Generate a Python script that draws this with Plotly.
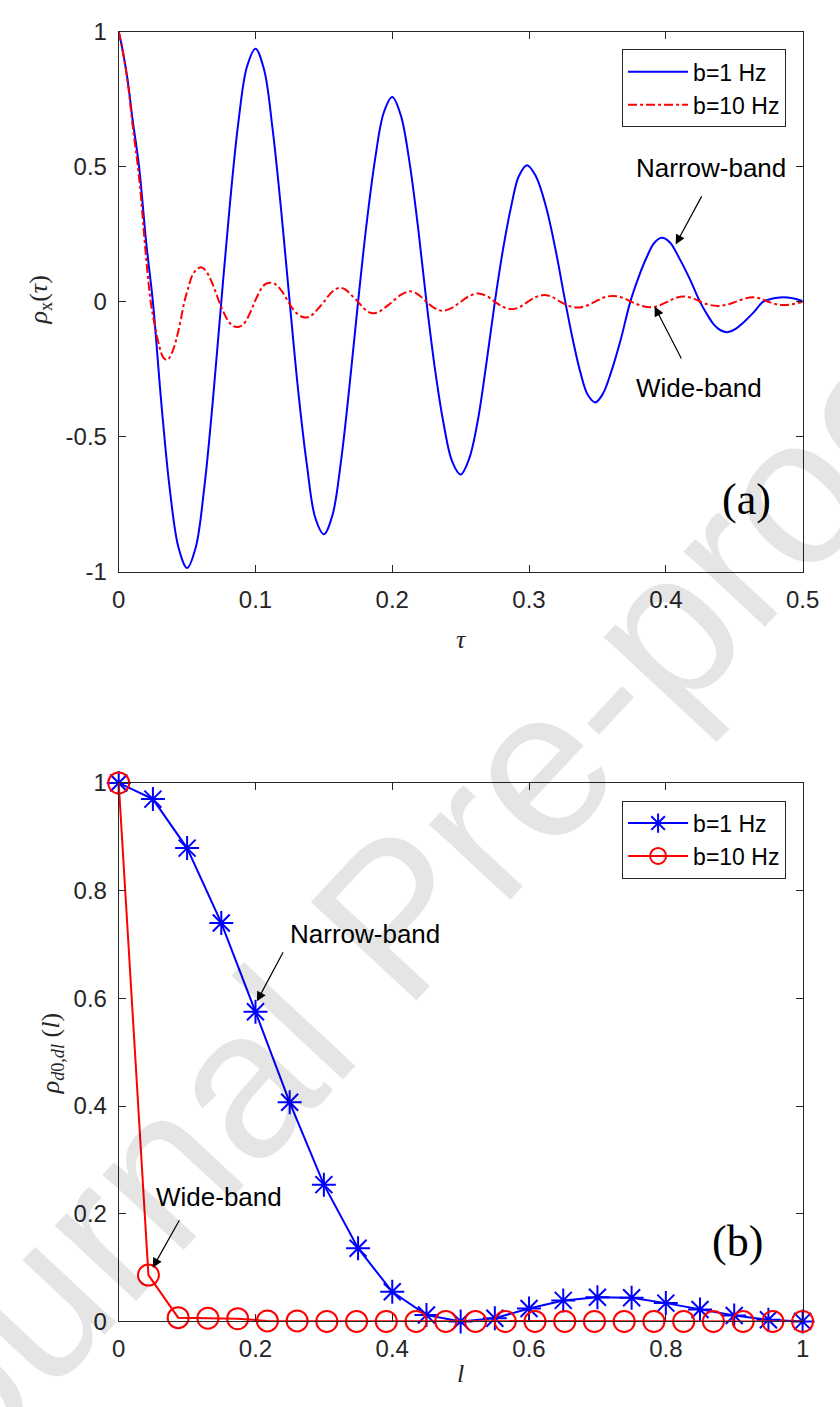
import plotly.graph_objects as go

# ---------------- data: panel (a) ----------------
tau_narrow = [0, 0.0023, 0.0064, 0.01, 0.0149, 0.0201, 0.025,
              0.03125, 0.0375, 0.04375, 0.05, 0.05625, 0.0625, 0.06875, 0.075,
              0.08125, 0.0875, 0.09375, 0.1, 0.10625, 0.1125, 0.11875, 0.125,
              0.13125, 0.1375, 0.14375, 0.15, 0.15625, 0.1625, 0.16875, 0.175,
              0.18125, 0.1875, 0.19375, 0.2, 0.20625, 0.2125, 0.21875, 0.225,
              0.23125, 0.2375, 0.24375, 0.25, 0.25625, 0.2625, 0.26875, 0.275,
              0.281, 0.287, 0.2925, 0.2985, 0.305, 0.3125, 0.3195, 0.3265,
              0.332, 0.3375, 0.343, 0.3485, 0.354, 0.36, 0.367, 0.374,
              0.38, 0.386, 0.3915, 0.397, 0.403, 0.41, 0.4175, 0.425,
              0.43, 0.435, 0.44, 0.445, 0.451, 0.457, 0.464, 0.471,
              0.475, 0.48, 0.486, 0.492, 0.5]
rho_narrow = [1.0, 0.946, 0.825, 0.68, 0.5, 0.219, 0.0,
              -0.38, -0.70, -0.91, -0.985, -0.91, -0.69, -0.37, 0.0,
              0.36, 0.665, 0.87, 0.937, 0.86, 0.64, 0.34, 0.0,
              -0.33, -0.60, -0.80, -0.86, -0.79, -0.59, -0.31, 0.0,
              0.29, 0.53, 0.70, 0.758, 0.69, 0.52, 0.28, 0.0,
              -0.25, -0.45, -0.59, -0.639, -0.58, -0.44, -0.23, 0.0,
              0.195, 0.355, 0.465, 0.506, 0.465, 0.35, 0.19, 0.0,
              -0.14, -0.26, -0.345, -0.372, -0.34, -0.26, -0.14, 0.0,
              0.09, 0.165, 0.218, 0.237, 0.22, 0.16, 0.085, 0.0,
              -0.045, -0.083, -0.105, -0.112, -0.10, -0.075, -0.04, 0.0,
              0.008, 0.014, 0.017, 0.014, 0.003]

tau_wide = [0, 0.0023, 0.0064, 0.01, 0.0149, 0.0201, 0.0234, 0.0265, 0.0295, 0.0325,
            0.0355, 0.0388, 0.042, 0.045, 0.048, 0.051, 0.054, 0.057, 0.0604, 0.0637,
            0.067, 0.0702, 0.0735, 0.0768, 0.08, 0.0838, 0.0875, 0.0908, 0.094, 0.0967,
            0.0994, 0.1022, 0.105, 0.108, 0.1113, 0.1147, 0.118, 0.121, 0.124, 0.1272,
            0.1305, 0.1339, 0.1373, 0.1404, 0.1435, 0.1467, 0.15, 0.153, 0.156, 0.159,
            0.162, 0.165, 0.168, 0.1715, 0.175, 0.178, 0.181, 0.184, 0.187, 0.19,
            0.1935, 0.1968, 0.2, 0.2065, 0.213, 0.219, 0.225, 0.231, 0.2367, 0.2433,
            0.25, 0.2564, 0.2628, 0.2689, 0.275, 0.2813, 0.2876, 0.2933, 0.299, 0.305,
            0.311, 0.317, 0.323, 0.329, 0.335, 0.3415, 0.348, 0.3545, 0.361, 0.368,
            0.375, 0.382, 0.389, 0.395, 0.401, 0.407, 0.413, 0.4193, 0.4255, 0.4318,
            0.438, 0.4445, 0.451, 0.4575, 0.464, 0.4695, 0.475, 0.4808, 0.4865, 0.4933,
            0.5]
rho_wide = [1.0, 0.946, 0.82, 0.66, 0.46, 0.16, 0.0, -0.09, -0.16, -0.205,
            -0.215, -0.19, -0.14, -0.075, 0.0, 0.055, 0.1, 0.12, 0.128, 0.115,
            0.085, 0.045, 0.0, -0.04, -0.07, -0.09, -0.093, -0.085, -0.062, -0.033,
            0.0, 0.03, 0.055, 0.068, 0.071, 0.065, 0.048, 0.026, 0.0, -0.025,
            -0.044, -0.055, -0.058, -0.052, -0.038, -0.02, 0.0, 0.02, 0.037, 0.048,
            0.052, 0.048, 0.036, 0.018, 0.0, -0.017, -0.032, -0.04, -0.042, -0.038,
            -0.026, -0.013, 0.0, 0.027, 0.039, 0.027, 0.0, -0.023, -0.033, -0.023,
            0.0, 0.022, 0.031, 0.022, 0.0, -0.019, -0.027, -0.019, 0.0, 0.018,
            0.025, 0.018, 0.0, -0.015, -0.021, -0.015, 0.0, 0.016, 0.022, 0.016,
            0.0, -0.014, -0.02, -0.014, 0.0, 0.014, 0.02, 0.014, 0.0, -0.011,
            -0.015, -0.011, 0.0, 0.012, 0.017, 0.012, 0.0, -0.009, -0.012, -0.008,
            0.0]

# ---------------- data: panel (b) ----------------
l_narrow = [0, 0.05, 0.1, 0.15, 0.2, 0.25, 0.3, 0.35, 0.4, 0.45, 0.5,
            0.55, 0.6, 0.65, 0.7, 0.75, 0.8, 0.85, 0.9, 0.95, 1.0]
corr_narrow = [1.0, 0.97, 0.879, 0.74, 0.575, 0.407, 0.254, 0.136, 0.055, 0.012, 0.0,
               0.006, 0.024, 0.039, 0.045, 0.044, 0.034, 0.022, 0.011, 0.003, 0.0]

l_wide = [k / 23 for k in range(24)]
corr_wide = [1.0, 0.086, 0.007, 0.006, 0.005, 0.001, 0.001, 0.0, 0.0, 0.0, 0.0, 0.0,
             0.0, 0.0, 0.0, 0.0, 0.0, 0.0, 0.0, 0.0, 0.0, 0.0, 0.0, 0.0]

# ---------------- tick labels ----------------
xa_ticks = [0, 0.1, 0.2, 0.3, 0.4, 0.5]
xa_labels = ["0", "0.1", "0.2", "0.3", "0.4", "0.5"]
ya_ticks = [-1, -0.5, 0, 0.5, 1]
ya_labels = ["-1", "-0.5", "0", "0.5", "1"]
xb_ticks = [0, 0.2, 0.4, 0.6, 0.8, 1]
xb_labels = ["0", "0.2", "0.4", "0.6", "0.8", "1"]
yb_ticks = [0, 0.2, 0.4, 0.6, 0.8, 1]
yb_labels = ["0", "0.2", "0.4", "0.6", "0.8", "1"]

W, H = 840, 1407
SANS = "Liberation Sans, Arial, sans-serif"
SERIF = "Liberation Serif, Times New Roman, serif"
AX = "#262626"

fig = go.Figure()
fig.add_trace(go.Scatter(x=tau_narrow, y=rho_narrow, mode="lines", name="b=1 Hz",
                         line=dict(color="#0000FF", width=2, shape="spline", smoothing=1.0),
                         xaxis="x", yaxis="y", legend="legend"))
fig.add_trace(go.Scatter(x=tau_wide, y=rho_wide, mode="lines", name="b=10 Hz",
                         line=dict(color="#FF0000", width=2, dash="dashdot", shape="spline",
                                   smoothing=1.0),
                         xaxis="x", yaxis="y", legend="legend"))
fig.add_trace(go.Scatter(x=l_narrow, y=corr_narrow, mode="lines+markers", name="b=1 Hz",
                         line=dict(color="#0000FF", width=2),
                         marker=dict(symbol="asterisk-open", size=20, color="#0000FF",
                                     line=dict(color="#0000FF", width=2)),
                         cliponaxis=False, xaxis="x2", yaxis="y2", legend="legend2"))
fig.add_trace(go.Scatter(x=l_wide, y=corr_wide, mode="lines+markers", name="b=10 Hz",
                         line=dict(color="#FF0000", width=2),
                         marker=dict(symbol="circle-open", size=21, color="#FF0000",
                                     line=dict(color="#FF0000", width=2)),
                         cliponaxis=False, xaxis="x2", yaxis="y2", legend="legend2"))


def axis(dom, rng, tv, tt, anchor):
    return dict(domain=dom, range=rng, tickvals=tv, ticktext=tt, ticks="inside", ticklen=7,
                tickwidth=1, tickcolor=AX, showline=True, linecolor=AX, linewidth=1,
                mirror="ticks", showgrid=False, zeroline=False, anchor=anchor,
                tickfont=dict(family=SANS, size=24, color=AX), ticklabelstandoff=6)


xdom = [115 / W, 819 / W]
ydom_a = [1 - 569 / H, 1 - 18 / H]
ydom_b = [1 - 1333 / H, 1 - 784 / H]

legend_common = dict(bgcolor="white", bordercolor=AX, borderwidth=1,
                     font=dict(family=SANS, size=23, color="black"),
                     xanchor="right", yanchor="top", x=802 / W, itemwidth=60,
                     tracegroupgap=0)

fig.update_layout(
    width=W, height=H, margin=dict(l=0, r=0, t=0, b=0),
    paper_bgcolor="white", plot_bgcolor="white", showlegend=True,
    xaxis=axis(xdom, [0, 0.5], xa_ticks, xa_labels, "y"),
    yaxis=axis(ydom_a, [-1, 1], ya_ticks, ya_labels, "x"),
    xaxis2=axis(xdom, [0, 1], xb_ticks, xb_labels, "y2"),
    yaxis2=axis(ydom_b, [0, 1], yb_ticks, yb_labels, "x2"),
    legend=dict(**legend_common, y=1 - 36 / H),
    legend2=dict(**legend_common, y=1 - 802 / H),
)

ann = []
TXT = dict(family=SANS, size=26, color="black")
C = dict(xanchor="center", yanchor="middle", showarrow=False)
ARW = dict(showarrow=True, arrowhead=2, arrowsize=1.6, arrowwidth=1.2, arrowcolor="black",
           text="", standoff=0, startstandoff=0)

# watermark (large, light grey, diagonal, partly beyond the page as in the source)
ann.append(dict(xref="paper", yref="paper", x=400 / W, y=1 - 920 / H, text="Journal Pre-proof",
                textangle=-47, font=dict(family=SANS, size=210, color="rgba(0,0,0,0.10)"), **C))

# panel (a) annotations
ann.append(dict(xref="x", yref="y", x=0.4332, y=0.494, text="Narrow-band", font=TXT, **C))
ann.append(dict(xref="x", yref="y", axref="x", ayref="y", x=0.4072, y=0.2123, ax=0.4268, ay=0.396, **ARW))
ann.append(dict(xref="x", yref="y", x=0.4242, y=-0.32, text="Wide-band", font=TXT, **C))
ann.append(dict(xref="x", yref="y", axref="x", ayref="y", x=0.3918, y=-0.0174, ax=0.4119, ay=-0.215, **ARW))
ann.append(dict(xref="x", yref="y", x=0.4593, y=-0.731, text="(a)",
                font=dict(family=SERIF, size=44, color="black"), **C))

# panel (b) annotations
ann.append(dict(xref="x2", yref="y2", x=0.3605, y=0.719, text="Narrow-band", font=TXT, **C))
ann.append(dict(xref="x2", yref="y2", axref="x2", ayref="y2", x=0.2021, y=0.5944, ax=0.2415, ay=0.6885, **ARW))
ann.append(dict(xref="x2", yref="y2", x=0.1463, y=0.2313, text="Wide-band", font=TXT, **C))
ann.append(dict(xref="x2", yref="y2", axref="x2", ayref="y2", x=0.0497, y=0.0996, ax=0.0899, ay=0.1907, **ARW))
ann.append(dict(xref="x2", yref="y2", x=0.9044, y=0.1475, text="(b)",
                font=dict(family=SERIF, size=44, color="black"), **C))

# axis titles
TIT = dict(family=SERIF, size=26, color=AX)
ann.append(dict(xref="paper", yref="paper", x=468 / W, y=1 - 638 / H, text="<i>τ</i>", font=TIT, **C))
ann.append(dict(xref="paper", yref="paper", x=467 / W, y=1 - 1386 / H, text="<i>l</i>", font=TIT, **C))
ann.append(dict(xref="paper", yref="paper", x=34 / W, y=1 - 292 / H, textangle=-90,
                text="<i>ρ</i><sub>x</sub>(<i>τ</i>)", font=TIT, **C))
ann.append(dict(xref="paper", yref="paper", x=46 / W, y=1 - 1060 / H, textangle=-90,
                text="<i>ρ</i><sub><i>d</i>0,<i>dl</i></sub> (<i>l</i>)", font=TIT, **C))

fig.update_layout(annotations=ann)
fig.write_html("out.html")
